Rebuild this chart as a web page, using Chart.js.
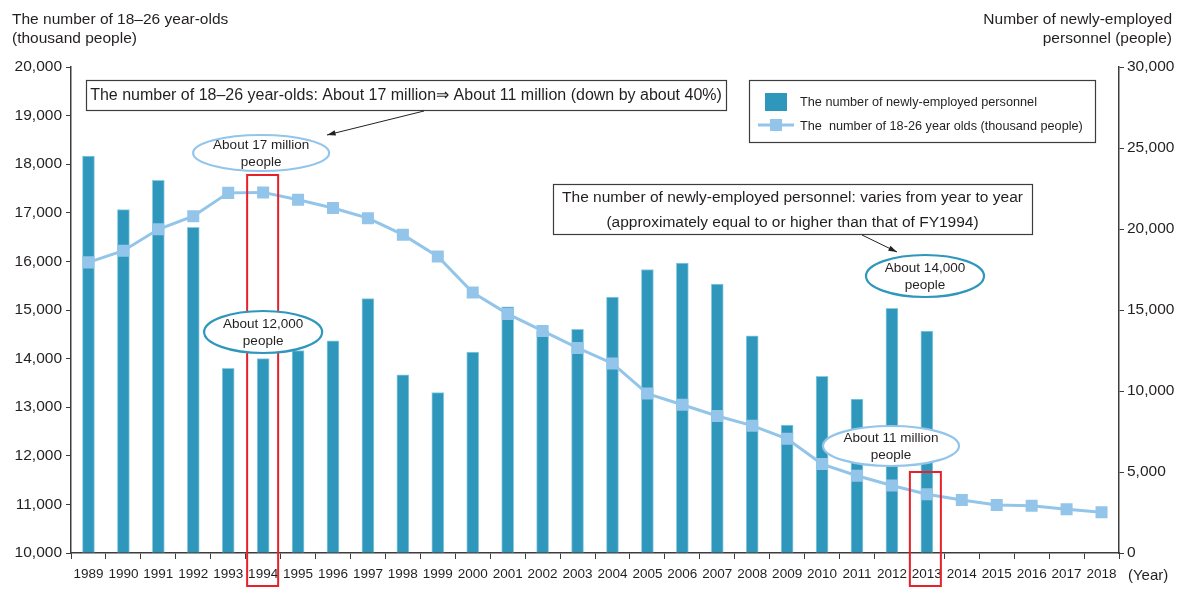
<!DOCTYPE html>
<html>
<head>
<meta charset="utf-8">
<script src="https://cdn.jsdelivr.net/npm/chart.js@4.4.1/dist/chart.umd.min.js"></script>
<style>
  body { margin: 0; background: #fff; }
  #wrap { width: 1188px; height: 589px; }
</style>
</head>
<body>
<div id="wrap"><canvas id="chart" width="1188" height="589"></canvas></div>
<script>
// Newly-employed personnel vs. number of 18-26 year-olds

const years = ['1989', '1990', '1991', '1992', '1993', '1994', '1995', '1996', '1997', '1998',
    '1999', '2000', '2001', '2002', '2003', '2004', '2005', '2006', '2007', '2008',
    '2009', '2010', '2011', '2012', '2013', '2014', '2015', '2016', '2017', '2018'];

// newly-employed personnel (people), right axis
const newHires = [24500, 21200, 23000, 20100, 11400, 12000, 12500, 13100, 15700, 11000,
    9900, 12400, 15200, 13700, 13800, 15800, 17500, 17900, 16600, 13400,
    7900, 10900, 9500, 15100, 13700, null, null, null, null, null];

// 18-26 year-olds (thousand people), left axis
const youthPop = [15980, 16220, 16660, 16930, 17410, 17420, 17270, 17100, 16890, 16550,
    16100, 15360, 14920, 14570, 14220, 13900, 13280, 13050, 12820, 12620,
    12350, 11830, 11590, 11390, 11210, 11090, 10990, 10970, 10900, 10840];

const leftTicks = [10000, 11000, 12000, 13000, 14000, 15000, 16000, 17000, 18000, 19000, 20000];
const rightTicks = [0, 5000, 10000, 15000, 20000, 25000, 30000];

const barColor = '#2e97bb';
const lineColor = '#93c5ea';
const redColor = '#e8202a';
const textColor = '#231f20';
const axisColor = '#3c3c3c';
const mainFont = "'Liberation Sans', Arial, sans-serif";

Chart.defaults.font.family = mainFont;
Chart.defaults.color = textColor;

function fmt(v) {
    return Number(v).toLocaleString('en-US');
}

// white ellipse with two centred lines of text
function ellipseNote(ctx, cx, cy, rx, ry, stroke, lines) {
    ctx.save();
    ctx.beginPath();
    ctx.ellipse(cx, cy, rx, ry, 0, 0, Math.PI * 2);
    ctx.fillStyle = '#fff';
    ctx.fill();
    ctx.lineWidth = 2.2;
    ctx.strokeStyle = stroke;
    ctx.stroke();
    ctx.fillStyle = textColor;
    ctx.font = '13.5px ' + mainFont;
    ctx.textAlign = 'center';
    ctx.textBaseline = 'middle';
    ctx.fillText(lines[0], cx, cy - 8);
    ctx.fillText(lines[1], cx, cy + 9);
    ctx.restore();
}

// framed text box
function noteBox(ctx, x, y, w, h, lines, size) {
    ctx.save();
    ctx.fillStyle = '#fff';
    ctx.fillRect(x, y, w, h);
    ctx.lineWidth = 1.2;
    ctx.strokeStyle = axisColor;
    ctx.strokeRect(x + 0.5, y + 0.5, w, h);
    ctx.fillStyle = textColor;
    ctx.font = size + 'px ' + mainFont;
    ctx.textAlign = 'center';
    ctx.textBaseline = 'middle';
    const step = h / lines.length;
    lines.forEach((t, i) => ctx.fillText(t, x + w / 2, y + step * (i + 0.5) + 1));
    ctx.restore();
}

function arrow(ctx, x1, y1, x2, y2) {
    const a = Math.atan2(y2 - y1, x2 - x1);
    ctx.save();
    ctx.strokeStyle = '#222';
    ctx.fillStyle = '#222';
    ctx.lineWidth = 1;
    ctx.beginPath();
    ctx.moveTo(x1, y1);
    ctx.lineTo(x2, y2);
    ctx.stroke();
    ctx.beginPath();
    ctx.moveTo(x2, y2);
    ctx.lineTo(x2 - 9 * Math.cos(a - 0.3), y2 - 9 * Math.sin(a - 0.3));
    ctx.lineTo(x2 - 9 * Math.cos(a + 0.3), y2 - 9 * Math.sin(a + 0.3));
    ctx.closePath();
    ctx.fill();
    ctx.restore();
}

const annotations = {
    id: 'annotations',
    afterDraw(chart) {
        const ctx = chart.ctx;
        const xs = chart.scales.x;

        // axis titles
        ctx.save();
        ctx.fillStyle = textColor;
        ctx.font = '15.5px ' + mainFont;
        ctx.textBaseline = 'alphabetic';
        ctx.textAlign = 'left';
        ctx.fillText('The number of 18\u201326 year-olds', 12, 24);
        ctx.fillText('(thousand people)', 12, 43);
        ctx.textAlign = 'right';
        ctx.fillText('Number of newly-employed', 1172, 24);
        ctx.fillText('personnel (people)', 1172, 43);
        ctx.font = '15px ' + mainFont;
        ctx.textAlign = 'left';
        ctx.textBaseline = 'middle';
        ctx.fillText('(Year)', 1128, 576);
        ctx.restore();

        // red frames on FY1994 and FY2013
        ctx.save();
        ctx.strokeStyle = redColor;
        ctx.lineWidth = 2;
        const x94 = xs.getPixelForValue(years.indexOf('1994'));
        const x13 = xs.getPixelForValue(years.indexOf('2013'));
        ctx.strokeRect(x94 - 16, 175, 31, 411);
        ctx.strokeRect(x13 - 17, 472, 31, 114);
        ctx.restore();

        // callouts
        noteBox(ctx, 86, 80, 640, 30,
            ['The number of 18\u201326 year-olds: About 17 million\u21d2 About 11 million (down by about 40%)'], 16);
        arrow(ctx, 424, 111, 327, 135);
        ellipseNote(ctx, x94 - 2, 153, 68, 18, lineColor, ['About 17 million', 'people']);
        ellipseNote(ctx, x94, 332, 59, 21, barColor, ['About 12,000', 'people']);

        noteBox(ctx, 553, 184, 479, 50,
            ['The number of newly-employed personnel: varies from year to year',
             '(approximately equal to or higher than that of FY1994)'], 15.5);
        arrow(ctx, 862, 235, 897, 252);
        ellipseNote(ctx, 925, 276, 59, 21, barColor, ['About 14,000', 'people']);
        ellipseNote(ctx, 891, 446, 68, 20, lineColor, ['About 11 million', 'people']);

        // legend
        ctx.save();
        ctx.fillStyle = '#fff';
        ctx.fillRect(749, 80, 347, 63);
        ctx.strokeStyle = axisColor;
        ctx.lineWidth = 1.2;
        ctx.strokeRect(749.5, 80.5, 346, 62);
        ctx.fillStyle = barColor;
        ctx.fillRect(765, 93, 22, 18);
        ctx.strokeStyle = lineColor;
        ctx.lineWidth = 3;
        ctx.beginPath();
        ctx.moveTo(758, 125);
        ctx.lineTo(794, 125);
        ctx.stroke();
        ctx.fillStyle = lineColor;
        ctx.fillRect(770, 119, 12, 12);
        ctx.fillStyle = textColor;
        ctx.font = '12.7px ' + mainFont;
        ctx.textAlign = 'left';
        ctx.textBaseline = 'middle';
        ctx.fillText(chart.data.datasets[0].label, 800, 102);
        ctx.fillText(chart.data.datasets[1].label, 800, 126);
        ctx.restore();
    }
};

const ctx = document.getElementById('chart').getContext('2d');

const chart = new Chart(ctx, {
    type: 'bar',
    data: {
        labels: years,
        datasets: [{
            type: 'bar',
            label: 'The number of newly-employed personnel',
            data: newHires,
            yAxisID: 'y1',
            backgroundColor: barColor,
            borderColor: '#8ccbe0',
            borderWidth: 1,
            barThickness: 12,
            order: 2
        }, {
            type: 'line',
            label: 'The  number of 18-26 year olds (thousand people)',
            data: youthPop,
            yAxisID: 'y',
            borderColor: lineColor,
            backgroundColor: lineColor,
            borderWidth: 3,
            pointStyle: 'rect',
            pointRadius: 8.5,
            pointBorderWidth: 0,
            tension: 0,
            order: 1
        }]
    },
    options: {
        responsive: false,
        animation: false,
        events: [],
        layout: { padding: { top: 67, left: 0, right: 0, bottom: 0 } },
        plugins: {
            legend: { display: false },
            tooltip: { enabled: false }
        },
        scales: {
            x: {
                offset: true,
                border: { color: axisColor, width: 1.5 },
                grid: { drawOnChartArea: false, drawTicks: true, tickLength: 6, color: axisColor, offset: true },
                ticks: { font: { size: 13.5 }, color: textColor, maxRotation: 0, autoSkip: false, padding: 7 },
                afterFit: s => { s.height = 36; }
            },
            y: {
                position: 'left',
                min: 10000,
                max: 20000,
                border: { color: axisColor, width: 1.5 },
                grid: { drawOnChartArea: false, tickLength: 5, color: axisColor },
                ticks: { font: { size: 15.5 }, color: textColor, padding: 4, callback: fmt },
                afterBuildTicks: s => { s.ticks = leftTicks.map(v => ({ value: v })); },
                afterFit: s => { s.width = 71; }
            },
            y1: {
                position: 'right',
                min: 0,
                max: 30000,
                border: { color: axisColor, width: 1.5 },
                grid: { drawOnChartArea: false, tickLength: 5, color: axisColor },
                ticks: { font: { size: 15.5 }, color: textColor, padding: 3, callback: fmt },
                afterBuildTicks: s => { s.ticks = rightTicks.map(v => ({ value: v })); },
                afterFit: s => { s.width = 69; }
            }
        }
    },
    plugins: [annotations]
});
</script>
</body>
</html>
